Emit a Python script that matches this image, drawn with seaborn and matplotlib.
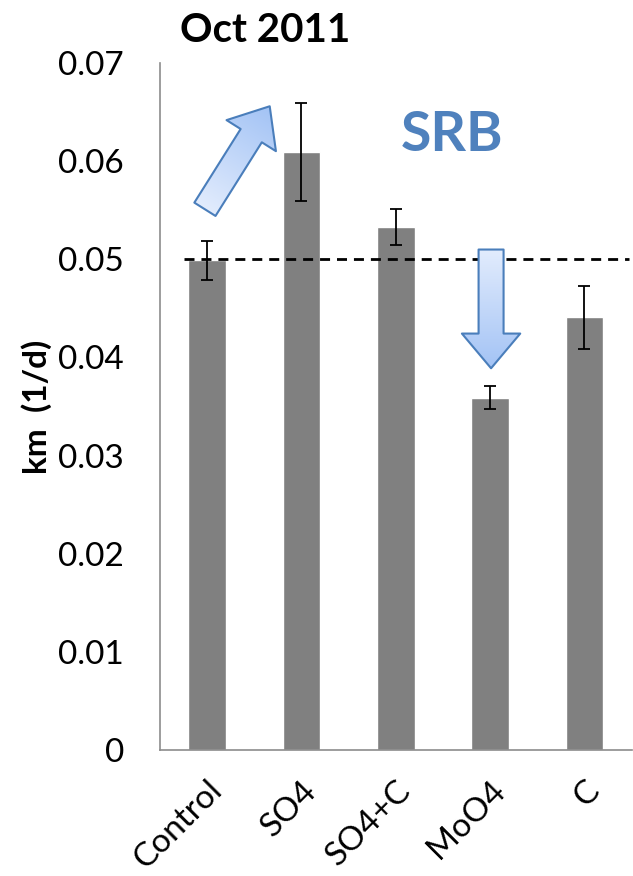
import matplotlib
matplotlib.use("Agg")
import matplotlib.pyplot as plt
import matplotlib.transforms as mtransforms
import seaborn as sns
import pandas as pd
import numpy as np
from matplotlib.colors import to_rgb

# Decay constants by treatment
categories = ["Control", "SO4", "SO4+C", "MoO4", "C"]
km_values = [0.0499, 0.0609, 0.0533, 0.0359, 0.0441]
km_errors = [0.0020, 0.0050, 0.0018, 0.0012, 0.0032]
y_ticks = [0, 0.01, 0.02, 0.03, 0.04, 0.05, 0.06, 0.07]
y_tick_labels = ["0", "0.01", "0.02", "0.03", "0.04", "0.05", "0.06", "0.07"]
reference_level = 0.05

sns.set_style("white")
plt.rcParams["font.family"] = ["Lato", "DejaVu Sans"]
plt.rcParams["text.color"] = "black"
plt.rcParams["axes.labelcolor"] = "black"

df = pd.DataFrame({"treatment": categories, "km": km_values})

fig = plt.figure(figsize=(6.33, 8.76), dpi=100)
ax = fig.add_axes([0.2528, 0.1438, 0.745, 0.7842])

sns.barplot(data=df, x="treatment", y="km", color="#808080", saturation=1,
            width=0.4, errorbar=None, ax=ax)
ax.errorbar(range(len(categories)), km_values, yerr=km_errors, fmt="none",
            ecolor="black", elinewidth=1.3, capsize=4.5, capthick=1.3, zorder=4)

ax.axhline(reference_level, xmin=0.05, xmax=0.995, color="black", lw=2,
           ls=(0, (3.6, 2.5)), zorder=5)

ax.set_yticks(y_ticks)
ax.set_yticklabels(y_tick_labels, fontsize=24)

ax.set_xticks(range(len(categories)))
ax.set_xticklabels(categories, fontsize=24, rotation=45, ha="right",
                   rotation_mode="anchor")
shift = mtransforms.ScaledTranslation(-5 / 72, 0, fig.dpi_scale_trans)
for lbl in ax.get_xticklabels():
    lbl.set_transform(lbl.get_transform() + shift)
ax.tick_params(axis="x", which="major", length=0, pad=18, labelcolor="black")
ax.set_xticks([i - 0.5 for i in range(len(categories) + 1)], minor=True)
ax.tick_params(axis="x", which="minor", length=10, color="#8c8c8c", width=1.2,
               direction="out")
ax.tick_params(axis="y", length=10, color="#8c8c8c", width=1.2, direction="out",
               pad=16, labelcolor="black")

for side in ["top", "right"]:
    ax.spines[side].set_visible(False)
for side in ["left", "bottom"]:
    ax.spines[side].set_color("#8c8c8c")
    ax.spines[side].set_linewidth(1.2)

ax.set_xlabel("")
ax.set_ylabel("km  (1/d)", fontsize=24, fontweight="bold", labelpad=4)

fig.text(0.284, 0.952, "Oct 2011", fontsize=29, fontweight="bold",
         ha="left", va="baseline")

ax.text(2.6, 0.0627, "SRB", fontsize=40, fontweight="bold", color="#4f81bd",
        ha="center", va="center")

# Block arrows with a light-to-saturated blue gradient
arrow_style = "simple,head_length=2.5,head_width=4.2,tail_width=1.8"
arrows = [((-0.024, 0.0551), (0.663, 0.0656)),
          ((3.01, 0.0510), (3.01, 0.0389))]
tail_rgb = np.array(to_rgb("#e2ecfd"))
head_rgb = np.array(to_rgb("#a3c3f5"))

ax.set_xlim(-0.5, 4.5)
ax.set_ylim(0, 0.07)

for tail, tip in arrows:
    ann = ax.annotate("", xy=tip, xytext=tail,
                      arrowprops=dict(arrowstyle=arrow_style, mutation_scale=10,
                                      fc="none", ec="#4a7ebb", lw=1.5,
                                      shrinkA=0, shrinkB=0), zorder=6)

    x0, x1 = min(tail[0], tip[0]) - 0.4, max(tail[0], tip[0]) + 0.4
    y0, y1 = min(tail[1], tip[1]) - 0.004, max(tail[1], tip[1]) + 0.004
    gx, gy = np.meshgrid(np.linspace(x0, x1, 120), np.linspace(y1, y0, 120))
    pts = ax.transData.transform(np.column_stack([gx.ravel(), gy.ravel()]))
    p_tail = ax.transData.transform(tail)
    p_tip = ax.transData.transform(tip)
    d = p_tip - p_tail
    t = ((pts - p_tail) @ d) / (d @ d)
    t = np.clip(t, 0, 1).reshape(gx.shape)
    img = tail_rgb[None, None, :] * (1 - t[..., None]) + head_rgb[None, None, :] * t[..., None]
    im = ax.imshow(img, extent=(x0, x1, y0, y1), aspect="auto", zorder=5.5,
                   interpolation="bilinear")
    im.set_clip_path(ann.arrow_patch)

ax.set_xlim(-0.5, 4.5)
ax.set_ylim(0, 0.07)

fig.canvas.draw()
fig.savefig("out.png", dpi=100)
